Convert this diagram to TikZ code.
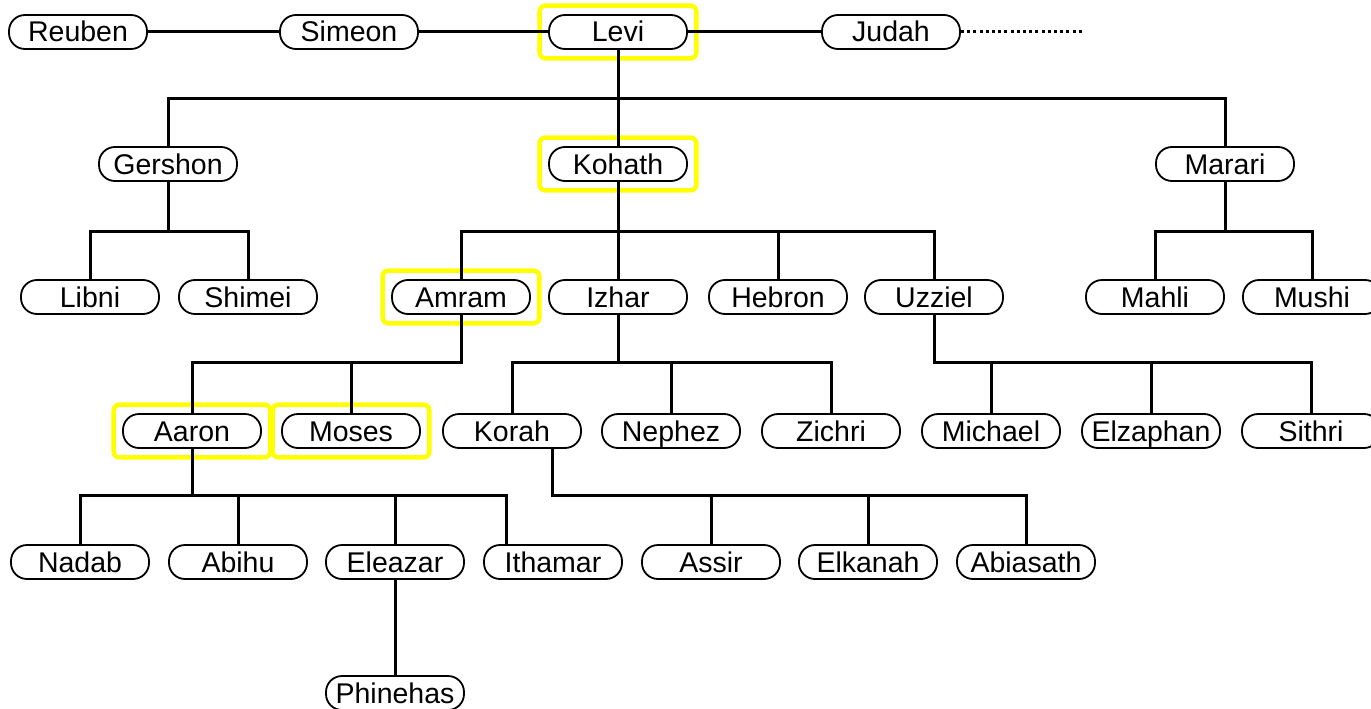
\documentclass[tikz,border=0pt]{standalone}
\usepackage{fontspec}
\setmainfont{Liberation Sans}
\usetikzlibrary{fit,backgrounds}
\begin{document}
\begin{tikzpicture}[x=1pt,y=-1pt,
  person/.style={draw=black, line width=1.8pt, fill=white, rounded corners=16pt,
    minimum width=138pt, minimum height=34pt, inner sep=0pt,
    font=\fontsize{28.5}{28.5}\selectfont, text height=20pt, text depth=0pt},
  link/.style={line width=3pt, draw=black},
  hl/.style={draw={rgb,255:red,255;green,255;blue,0}, line width=4.5pt, rounded corners=6pt, inner sep=8.5pt}]
\useasboundingbox (0,0) rectangle (1371,709);
% row 0
\node[person] (reuben) at (78,32) {Reuben};
\node[person] (simeon) at (349,32) {Simeon};
\node[person] (levi) at (618,32) {Levi};
\node[person] (judah) at (891,32) {Judah};
% row 1
\node[person] (gershon) at (168,164) {Gershon};
\node[person] (kohath) at (618,164) {Kohath};
\node[person] (marari) at (1225,164) {Marari};
% row 2
\node[person] (libni) at (90,297) {Libni};
\node[person] (shimei) at (248,297) {Shimei};
\node[person] (amram) at (461,297) {Amram};
\node[person] (izhar) at (618,297) {Izhar};
\node[person] (hebron) at (778,297) {Hebron};
\node[person] (uzziel) at (934,297) {Uzziel};
\node[person] (mahli) at (1155,297) {Mahli};
\node[person] (mushi) at (1312,297) {Mushi};
% row 3
\node[person] (aaron) at (192,431) {Aaron};
\node[person] (moses) at (351,431) {Moses};
\node[person] (korah) at (512,431) {Korah};
\node[person] (nephez) at (671,431) {Nephez};
\node[person] (zichri) at (831,431) {Zichri};
\node[person] (michael) at (991,431) {Michael};
\node[person] (elzaphan) at (1151,431) {Elzaphan};
\node[person] (sithri) at (1311,431) {Sithri};
% row 4
\node[person] (nadab) at (80,562) {Nadab};
\node[person] (abihu) at (238,562) {Abihu};
\node[person] (eleazar) at (395,562) {Eleazar};
\node[person] (ithamar) at (553,562) {Ithamar};
\node[person] (assir) at (711,562) {Assir};
\node[person] (elkanah) at (868,562) {Elkanah};
\node[person] (abiasath) at (1026,562) {Abiasath};
% row 5
\node[person] (phinehas) at (395,693) {Phinehas};

% highlight boxes
\begin{scope}[on background layer]
\node[hl, fit=(levi)] (hlevi) {};
\node[hl, fit=(kohath)] (hkohath) {};
\node[hl, fit=(amram)] (hamram) {};
\node[hl, fit=(aaron)] (haaron) {};
\node[hl, fit=(moses)] (hmoses) {};
\end{scope}

% bus levels
\coordinate (b1) at (0,98);
\coordinate (b2) at (0,231);
\coordinate (b3) at (0,362);
\coordinate (b4) at (0,495);
\coordinate (dotend) at (1083,32);

% siblings line
\draw[link] (reuben.east) -- (simeon.west);
\draw[link] (simeon.east) -- (levi.west);
\draw[link] (levi.east) -- (judah.west);
\draw[line width=3pt, dash pattern=on 3pt off 3.2pt] (judah.east) -- (dotend);

% Levi
\draw[link] (levi.south) -- (kohath.north);
\draw[link] (gershon.north) -- (gershon.north |- b1) -- (marari.north |- b1) -- (marari.north);
% Gershon
\draw[link] (gershon.south) -- (gershon.south |- b2);
\draw[link] (libni.north) -- (libni.north |- b2) -- (shimei.north |- b2) -- (shimei.north);
% Kohath
\draw[link] (kohath.south) -- (izhar.north);
\draw[link] (amram.north) -- (amram.north |- b2) -- (uzziel.north |- b2) -- (uzziel.north);
\draw[link] (hebron.north) -- (hebron.north |- b2);
% Marari
\draw[link] (marari.south) -- (marari.south |- b2);
\draw[link] (mahli.north) -- (mahli.north |- b2) -- (mushi.north |- b2) -- (mushi.north);
% Amram
\draw[link] (amram.south) -- (amram.south |- b3) -- (aaron.north |- b3) -- (aaron.north);
\draw[link] (moses.north) -- (moses.north |- b3);
% Izhar
\draw[link] (izhar.south) -- (izhar.south |- b3);
\draw[link] (korah.north) -- (korah.north |- b3) -- (zichri.north |- b3) -- (zichri.north);
\draw[link] (nephez.north) -- (nephez.north |- b3);
% Uzziel
\draw[link] (uzziel.south) -- (uzziel.south |- b3) -- (sithri.north |- b3) -- (sithri.north);
\draw[link] (michael.north) -- (michael.north |- b3);
\draw[link] (elzaphan.north) -- (elzaphan.north |- b3);
% Aaron
\draw[link] (aaron.south) -- (aaron.south |- b4);
\draw[link] (nadab.north) -- (nadab.north |- b4) -- ([xshift=-47pt]ithamar.north |- b4) -- ([xshift=-47pt]ithamar.north);
\draw[link] (abihu.north) -- (abihu.north |- b4);
\draw[link] (eleazar.north) -- (eleazar.north |- b4);
% Korah
\draw[link] ([xshift=40pt]korah.south) -- ([xshift=40pt]korah.south |- b4) -- (abiasath.north |- b4) -- (abiasath.north);
\draw[link] (assir.north) -- (assir.north |- b4);
\draw[link] (elkanah.north) -- (elkanah.north |- b4);
% Eleazar
\draw[link] (eleazar.south) -- (phinehas.north);
\end{tikzpicture}
\end{document}
